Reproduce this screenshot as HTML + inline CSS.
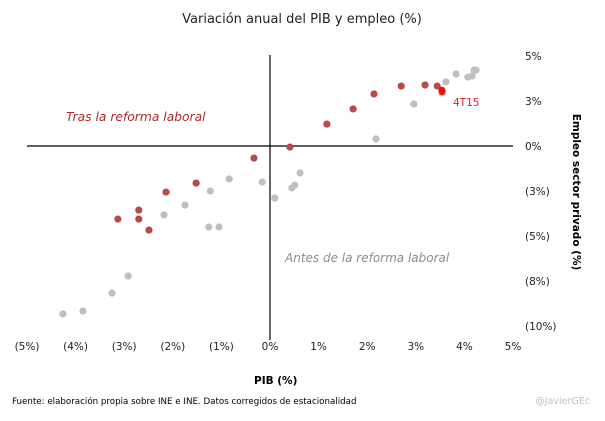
<!DOCTYPE html>
<html><head><meta charset="utf-8"><style>
body{margin:0;background:#fff;font-family:"Liberation Sans",sans-serif;}
svg text{font-family:"DejaVu Sans","Liberation Sans",sans-serif;}
</style></head><body>
<svg id="c" width="605" height="416" xmlns="http://www.w3.org/2000/svg">
<rect width="605" height="416" fill="#fff"/>
<text x="302" y="23" text-anchor="middle" font-size="13" fill="#222">Variación anual del PIB y empleo (%)</text>
<g id="axes"></g>
<g id="pts"></g>
<text x="66" y="121" font-size="12.3" font-style="italic" fill="#b02a2a">Tras la reforma laboral</text>
<text x="285" y="262" font-size="12" font-style="italic" fill="#8c8c8c">Antes de la reforma laboral</text>
<text x="453" y="106" font-size="10.5" fill="#e02020">4T15</text>
<text transform="translate(573,192) rotate(90)" text-anchor="middle" font-size="10.5" font-weight="bold" fill="#000">Empleo  sector privado  (%)</text>
<text x="254" y="384" font-size="10.5" font-weight="bold" fill="#000">PIB  (%)</text>
<text x="12" y="404" font-size="8.7" fill="#000">Fuente: elaboración propia sobre INE e INE. Datos corregidos de estacionalidad</text>
<text x="590" y="404" text-anchor="end" font-size="9.5" fill="#c0c0c0">@JavierGEc</text>
</svg>
<script>
const xTicks=[-5,-4,-3,-2,-1,0,1,2,3,4,5];
const xTickLabels=["(5%)","(4%)","(3%)","(2%)","(1%)","0%","1%","2%","3%","4%","5%"];
const yTicks=[5,2.5,0,-2.5,-5,-7.5,-10];
const yTickLabels=["5%","3%","0%","(3%)","(5%)","(8%)","(10%)"];
const afterX=[-0.33,0.41,1.17,1.71,2.14,2.70,3.19,3.44,-1.52,-2.14,-2.70,-2.70,-3.13,-2.49];
const afterY=[-0.67,-0.06,1.22,2.06,2.89,3.33,3.39,3.33,-2.06,-2.56,-3.56,-4.06,-4.06,-4.67];
const beforeX=[-0.84,-1.23,-1.75,-2.18,-1.26,-1.05,-2.92,-3.25,-3.85,-4.26,-0.16,0.10,0.45,0.51,0.62,2.18,2.96,3.54,3.62,3.83,4.07,4.16,4.20,4.24];
const beforeY=[-1.83,-2.5,-3.28,-3.83,-4.5,-4.5,-7.22,-8.17,-9.17,-9.33,-2.0,-2.89,-2.33,-2.17,-1.5,0.39,2.33,2.94,3.56,4.0,3.83,3.89,4.22,4.22];
const lastX=[3.54];
const lastY=[3.06];
const X=v=>270+v*48.6;
const Y=v=>146-v*18;
const NS="http://www.w3.org/2000/svg";
const axes=document.getElementById('axes'),pts=document.getElementById('pts');
function mk(tag,attrs,parent){const e=document.createElementNS(NS,tag);for(const k in attrs)e.setAttribute(k,attrs[k]);parent.appendChild(e);return e;}
let l=mk('line',{x1:X(-5),x2:X(5),y1:Y(0),y2:Y(0),stroke:'#000','stroke-width':1.2},axes);


l=mk('line',{x1:X(0),x2:X(0),y1:55,y2:340,stroke:'#000','stroke-width':1.2},axes);


xTicks.forEach((v,i)=>{const t=mk('text',{x:X(v),y:350,'text-anchor':'middle','font-size':10.5,fill:'#222'},axes);t.textContent=xTickLabels[i];

});
yTicks.forEach((v,i)=>{const t=mk('text',{x:525,y:Y(v)+4,'font-size':10.5,fill:'#222'},axes);t.textContent=yTickLabels[i];

});
beforeX.forEach((v,i)=>{const c=mk('circle',{cx:X(v),cy:Y(beforeY[i]),r:3.6,fill:'#bfbfbf'},pts);

});
afterX.forEach((v,i)=>{const c=mk('circle',{cx:X(v),cy:Y(afterY[i]),r:3.6,fill:'#b94a48'},pts);

});
lastX.forEach((v,i)=>{const c=mk('ellipse',{cx:X(v),cy:Y(lastY[i]),rx:3.6,ry:4.2,fill:'#e81010'},pts);

});
</script>
</body></html>
